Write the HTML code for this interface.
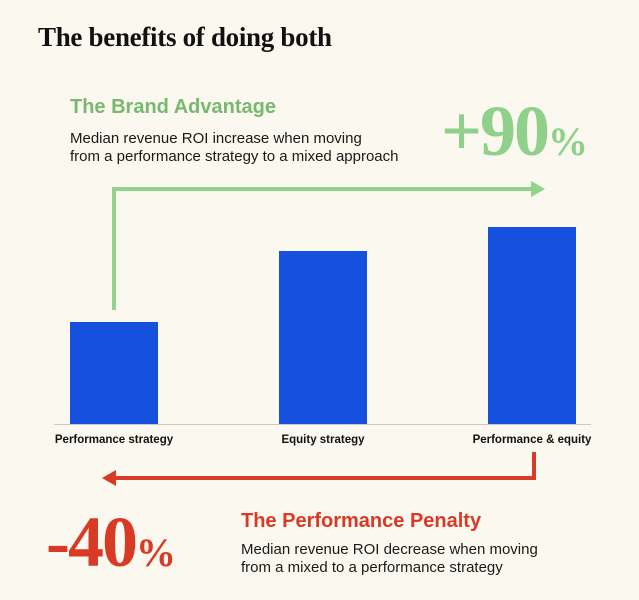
<!DOCTYPE html>
<html><head><meta charset="utf-8"><style>
body{margin:0;background:#fbf8ef;width:639px;height:600px;overflow:hidden;position:relative;font-family:"Liberation Sans",sans-serif}
.a{position:absolute;margin:0;white-space:nowrap}
.title{left:38px;top:22px;font-family:"Liberation Serif",serif;font-weight:bold;font-size:27px;color:#111;letter-spacing:-0.3px}
.h{font-weight:bold;font-size:20px}
.p{font-size:15px;line-height:18px;color:#1a1a1a}
.big{font-family:"Liberation Serif",serif;font-weight:bold;font-size:72px;line-height:72px;letter-spacing:-2px}
.big small{font-size:40px;letter-spacing:0}
</style></head><body>
<div class="a title">The benefits of doing both</div>
<div class="a h" style="left:70px;top:96px;color:#78b96f">The Brand Advantage</div>
<div class="a p" style="left:70px;top:130px">Median revenue ROI increase when moving<br>from a performance strategy to a mixed approach</div>
<div class="a big" style="left:441px;top:95px;color:#8fd08a">+90<small>%</small></div>
<div class="a h" style="left:241px;top:510px;color:#d93a26">The Performance Penalty</div>
<div class="a p" style="left:241px;top:541px">Median revenue ROI decrease when moving<br>from a mixed to a performance strategy</div>
<div class="a big" style="left:46px;top:506px;color:#d93a26">-40<small>%</small></div>
<svg id="c" width="639" height="600" style="position:absolute;left:0;top:0">
<polyline points="114,310 114,189 535,189" fill="none" stroke="#93d28a" stroke-width="4"/>
<polygon points="531,181 545,189 531,197" fill="#93d28a"/>
<polyline points="534,452 534,478 112,478" fill="none" stroke="#d93a26" stroke-width="4"/>
<polygon points="116,470 102,478 116,486" fill="#d93a26"/>
<line x1="54" y1="424.5" x2="591" y2="424.5" stroke="#c8c8c8" stroke-width="1"/>
</svg>
<script>
const categories=["Performance strategy","Equity strategy","Performance & equity"];
const values=[102,173,197];
const svg=document.getElementById('c');
const NS='http://www.w3.org/2000/svg';
const baseY=424, scale=1;
const xCenter=i=>114+i*209;
const yPos=v=>baseY-v*scale;
categories.forEach((c,i)=>{
 const r=document.createElementNS(NS,'rect');
 r.setAttribute('x',xCenter(i)-44);r.setAttribute('width',88);
 r.setAttribute('y',yPos(values[i]));r.setAttribute('height',baseY-yPos(values[i]));
 r.setAttribute('fill','#1650df');
 
 
 svg.appendChild(r);
 const t=document.createElementNS(NS,'text');
 t.setAttribute('x',xCenter(i));t.setAttribute('y',443);
 t.setAttribute('text-anchor','middle');t.setAttribute('font-size','11.5');t.setAttribute('font-weight','bold');
 t.setAttribute('font-family','Liberation Sans, sans-serif');t.setAttribute('fill','#111');
 t.textContent=c;
 
 
 svg.appendChild(t);
});
</script>
</body></html>
